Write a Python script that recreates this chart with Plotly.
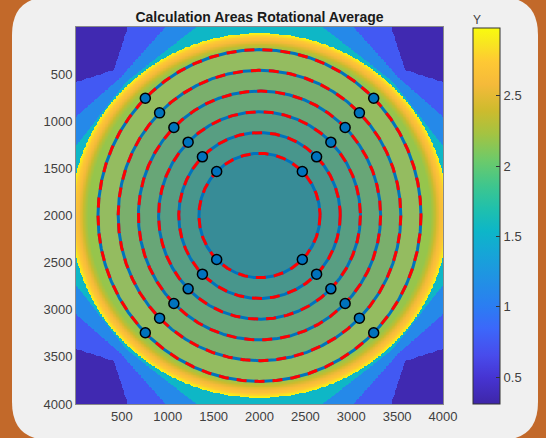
import numpy as np
import plotly.graph_objects as go

# ---------------- data ----------------
x_ticks = [500, 1000, 1500, 2000, 2500, 3000, 3500, 4000]
y_ticks = [500, 1000, 1500, 2000, 2500, 3000, 3500, 4000]
cbar_ticks = [0.5, 1, 1.5, 2, 2.5]
cbar_ticktext = ["0.5", "1", "1.5", "2", "2.5"]
c_min, c_max = 0.31, 2.98

center_xy = [2000, 2000]
circle_radii = [660, 880, 1100, 1320, 1540, 1760]
marker_angles_deg = [45, 135, 225, 315]

# rotational-average values of the calculation areas (centre -> outside)
area_levels = [0, 1, 2, 3, 4, 5]
area_colors = ["rgb(55,140,151)", "rgb(72,150,140)", "rgb(88,158,130)",
               "rgb(104,166,119)", "rgb(122,175,108)", "rgb(148,188,96)"]

# bright ring just outside the areas: radius -> value
ring_radius = [1760, 1795, 1830, 1865, 1895, 1920, 1935]
ring_value = [2.18, 2.30, 2.48, 2.63, 2.74, 2.87, 2.95]
ring_outer = 1935

# outer flat bands: values (cyan, light blue, blue, purple)
band_values = [1.55, 1.12, 0.75, 0.35]
band_edge_axis = [2524, 3128, 6363]
band_edge_diag = [2004, 2078, 2185]

# ---------------- layout constants ----------------
W, H = 546, 438
PL, PR, PT, PB = 76, 443, 27, 404
pw, ph = PR - PL, PB - PT
KX = (pw / 4000) / (ph / 4000)
RING_KX = 0.943

parula = [
    (0.00, (62, 38, 168)), (0.07, (70, 52, 210)), (0.13, (72, 76, 236)),
    (0.20, (60, 103, 250)), (0.26, (43, 125, 242)), (0.33, (33, 145, 228)),
    (0.40, (22, 165, 215)), (0.46, (13, 182, 200)), (0.52, (32, 192, 172)),
    (0.58, (62, 198, 142)), (0.65, (110, 202, 105)), (0.72, (165, 195, 65)),
    (0.78, (205, 187, 45)), (0.85, (245, 186, 58)), (0.91, (254, 200, 52)),
    (0.96, (248, 230, 32)), (1.00, (249, 251, 14)),
]
parula_cs = [[p, "rgb(%d,%d,%d)" % c] for p, c in parula]

# ---------------- field ----------------
step = 8
xs = np.arange(step / 2, 4000, step)
ys = np.arange(step / 2, 4000, step)
X, Y = np.meshgrid(xs, ys)
dx = X - center_xy[0]
dy = Y - center_xy[1]
dxe = dx * KX
rho = np.hypot(dxe, dy)
theta = np.arctan2(np.abs(dy), np.abs(dxe))
phi = np.minimum(theta, np.pi / 2 - theta)
s45 = np.sin(np.pi / 4)


def edge_line(ra, rd):
    return ra * rd * s45 / (ra * np.sin(phi) + rd * np.sin(np.pi / 4 - phi))


z = np.full(X.shape, band_values[0])
for i, (ra, rd) in enumerate(zip(band_edge_axis, band_edge_diag)):
    z[rho > edge_line(ra, rd)] = band_values[i + 1]
rr = np.hypot(dx * RING_KX, dy)
inside = rr < ring_outer
z[inside] = np.interp(rr[inside], ring_radius, ring_value)
z = np.round(z, 3)

r_true = np.hypot(dx, dy)
idx = np.searchsorted(circle_radii, r_true)
z2 = np.where(idx < len(circle_radii), np.take(area_levels + [0], idx), np.nan).astype(float)
z2_list = [[None if np.isnan(v) else int(v) for v in row] for row in z2]
n = len(area_levels) - 1
area_cs = [[i / n, c] for i, c in enumerate(area_colors)]

fig = go.Figure()
fig.add_trace(go.Heatmap(
    x=xs, y=ys, z=z, colorscale=parula_cs, zmin=c_min, zmax=c_max,
    zsmooth=False, hoverinfo="skip",
    colorbar=dict(
        x=(473 - PL) / pw, xanchor="left", y=(PB - 28) / ph, yanchor="top",
        len=376, lenmode="pixels", thickness=27, thicknessmode="pixels",
        outlinewidth=1, outlinecolor="#333333", xpad=0, ypad=0,
        tickvals=cbar_ticks, ticktext=cbar_ticktext, ticks="inside", ticklen=4,
        tickcolor="#333333", tickfont=dict(size=13, color="#404040",
                                           family="Liberation Sans, Arial, sans-serif"),
    ),
))
fig.add_trace(go.Heatmap(
    x=xs, y=ys, z=z2_list, colorscale=area_cs, zmin=0, zmax=n,
    zsmooth=False, showscale=False, hoverinfo="skip",
))

t = np.linspace(0, 2 * np.pi, 721)
for r in circle_radii:
    cx = center_xy[0] + r * np.cos(t)
    cy = center_xy[1] + r * np.sin(t)
    fig.add_trace(go.Scatter(x=cx, y=cy, mode="lines",
                             line=dict(color="#0072BD", width=3),
                             hoverinfo="skip", showlegend=False))
    fig.add_trace(go.Scatter(x=cx, y=cy, mode="lines",
                             line=dict(color="#FF0000", width=3, dash="10px,8px"),
                             hoverinfo="skip", showlegend=False))

mx, my = [], []
for r in circle_radii:
    for a in marker_angles_deg:
        mx.append(center_xy[0] + r * np.cos(np.radians(a)))
        my.append(center_xy[1] + r * np.sin(np.radians(a)))
fig.add_trace(go.Scatter(x=mx, y=my, mode="markers",
                         marker=dict(size=10, color="#0072BD",
                                     line=dict(color="black", width=1.5)),
                         hoverinfo="skip", showlegend=False))


# card background (rounded rectangle)
def px2paper(px, py):
    return (px - PL) / pw, (PB - py) / ph


L, R, T, B, RAD = 12, 538, -3, 440, 38
a = px2paper
path = ["M %f,%f" % a(L + RAD, T),
        "L %f,%f" % a(R - RAD, T),
        "Q %f,%f %f,%f" % (*a(R, T), *a(R, T + RAD)),
        "L %f,%f" % a(R, B - RAD),
        "Q %f,%f %f,%f" % (*a(R, B), *a(R - RAD, B)),
        "L %f,%f" % a(L + RAD, B),
        "Q %f,%f %f,%f" % (*a(L, B), *a(L, B - RAD)),
        "L %f,%f" % a(L, T + RAD),
        "Q %f,%f %f,%f" % (*a(L, T), *a(L + RAD, T)),
        "Z"]

font_family = "Liberation Sans, Arial, Helvetica, sans-serif"
axis_common = dict(showgrid=False, zeroline=False, ticks="", showline=True,
                   linecolor="#8a8a8a", linewidth=1, mirror=True,
                   tickfont=dict(size=13, color="#404040", family=font_family))
fig.update_layout(
    width=W, height=H, autosize=False,
    margin=dict(l=PL, r=W - PR, t=PT, b=H - PB, pad=0),
    paper_bgcolor="#C2692A", plot_bgcolor="#F0F0F0",
    showlegend=False,
    title=dict(text="<b>Calculation Areas Rotational Average</b>",
               x=(PL + PR) / 2 / W, xanchor="center", y=1 - 17 / H, yanchor="middle",
               font=dict(size=14, color="#1a1a1a", family=font_family)),
    xaxis=dict(range=[0, 4000], tickvals=x_ticks, **axis_common),
    yaxis=dict(range=[4000, 0], tickvals=y_ticks, **axis_common),
    shapes=[dict(type="path", xref="paper", yref="paper", path=" ".join(path),
                 fillcolor="#F0F0F0", line=dict(width=0), layer="below")],
    annotations=[dict(text="Y", x=(477 - PL) / pw, y=(PB - 20) / ph,
                      xref="paper", yref="paper", showarrow=False,
                      xanchor="center", yanchor="middle",
                      font=dict(size=12, color="#404040", family=font_family))],
)
fig.write_html("out.html", config={"displayModeBar": False},
               post_script="document.body.style.margin='0';"
                           "document.body.style.overflow='hidden';")
